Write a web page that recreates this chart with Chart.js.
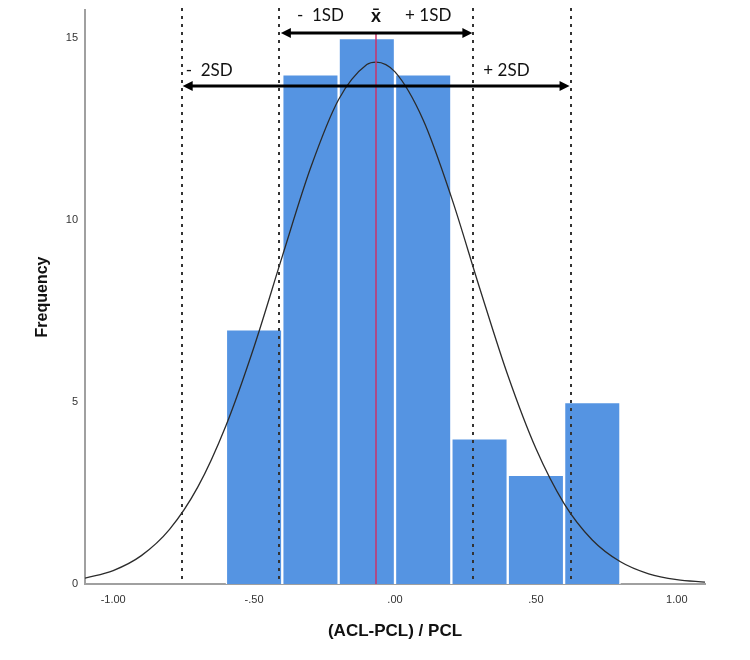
<!DOCTYPE html>
<html>
<head>
<meta charset="utf-8">
<title>Histogram (ACL-PCL) / PCL</title>
<script src="https://cdn.jsdelivr.net/npm/chart.js"></script>
<style>
  html, body { margin:0; padding:0; background:#fff; }
  #wrap { width:750px; height:660px; }
</style>
</head>
<body>
<div id="wrap"><canvas id="histChart" width="750" height="660"></canvas></div>
<script>
// ---------------- Data ----------------
const binCenters = [-0.5, -0.3, -0.1, 0.1, 0.3, 0.5, 0.7];
const frequencies = [7, 14, 15, 14, 4, 3, 5];

// normal curve
const curveX = [-1.1, -1.0, -0.9, -0.8, -0.7, -0.6, -0.5, -0.4, -0.3, -0.2, -0.1, -0.067,
                0.0, 0.1, 0.2, 0.3, 0.4, 0.5, 0.6, 0.7, 0.8, 0.9, 1.0, 1.1];
const curveY = [0.16, 0.37, 0.78, 1.50, 2.66, 4.35, 6.52, 9.00, 11.42, 13.31, 14.27, 14.34,
                14.07, 12.75, 10.63, 8.14, 5.74, 3.72, 2.21, 1.21, 0.61, 0.28, 0.12, 0.05];

const meanValue = -0.067;
const sdLines = [-0.757, -0.412, 0.278, 0.623];   // -2SD, -1SD, +1SD, +2SD
const xTickValues = [-1, -0.5, 0, 0.5, 1];
const yTickValues = [0, 5, 10, 15];

// ---------------- Helpers ----------------
function fmtTick(v) {
  const s = Math.abs(v).toFixed(2).replace(/^0/, "");
  return (v < 0 ? "-" : "") + s;
}

function drawArrow(ctx, x1, x2, y) {
  const head = 10, half = 5;
  ctx.beginPath();
  ctx.moveTo(x1 + head - 1, y);
  ctx.lineTo(x2 - head + 1, y);
  ctx.stroke();
  ctx.beginPath();
  ctx.moveTo(x1, y); ctx.lineTo(x1 + head, y - half); ctx.lineTo(x1 + head, y + half); ctx.closePath();
  ctx.fill();
  ctx.beginPath();
  ctx.moveTo(x2, y); ctx.lineTo(x2 - head, y - half); ctx.lineTo(x2 - head, y + half); ctx.closePath();
  ctx.fill();
}

// ---------------- SD markers ----------------
const sdPlugin = {
  id: "sdMarks",
  afterDatasetsDraw(chart) {
    const { ctx, chartArea, scales: { x, y } } = chart;
    ctx.save();

    // dotted SD lines
    ctx.strokeStyle = "#333";
    ctx.lineWidth = 2;
    ctx.setLineDash([3, 5]);
    sdLines.forEach(v => {
      const px = Math.round(x.getPixelForValue(v));
      ctx.beginPath();
      ctx.moveTo(px, chartArea.top - 2);
      ctx.lineTo(px, chartArea.bottom);
      ctx.stroke();
    });
    ctx.setLineDash([]);

    // mean line
    const mx = Math.round(x.getPixelForValue(meanValue));
    const topArrowY = y.getPixelForValue(15.14);
    const lowArrowY = y.getPixelForValue(13.68);
    ctx.strokeStyle = "#c8336a";
    ctx.lineWidth = 1.5;
    ctx.beginPath();
    ctx.moveTo(mx, topArrowY);
    ctx.lineTo(mx, chartArea.bottom);
    ctx.stroke();

    // arrows
    ctx.strokeStyle = "#000";
    ctx.fillStyle = "#000";
    ctx.lineWidth = 3;
    drawArrow(ctx, x.getPixelForValue(sdLines[1]) + 2, x.getPixelForValue(sdLines[2]) - 1, topArrowY);
    drawArrow(ctx, x.getPixelForValue(sdLines[0]) + 1, x.getPixelForValue(sdLines[3]) - 1, lowArrowY);

    // labels
    ctx.font = "17px Lato, 'Open Sans', sans-serif";
    ctx.textBaseline = "middle";
    ctx.fillStyle = "#111";
    ctx.textAlign = "left";
    ctx.fillText("-  1SD", x.getPixelForValue(sdLines[1]) + 18, topArrowY - 17);
    ctx.fillText("-  2SD", x.getPixelForValue(sdLines[0]) + 4, lowArrowY - 16);
    ctx.fillText("+ 2SD", x.getPixelForValue(sdLines[2]) + 10, lowArrowY - 16);
    ctx.textAlign = "right";
    ctx.fillText("+ 1SD", x.getPixelForValue(sdLines[2]) - 22, topArrowY - 17);
    ctx.textAlign = "center";
    ctx.font = "bold 19px Lato, 'DejaVu Sans', sans-serif";
    ctx.fillText("x\u0304", mx, topArrowY - 17);

    ctx.restore();
  }
};

// ---------------- Chart ----------------
const ctx = document.getElementById("histChart").getContext("2d");
new Chart(ctx, {
  type: "bar",
  data: {
    datasets: [
      {
        type: "line",
        label: "Normal",
        data: curveX.map((v, i) => ({ x: v, y: curveY[i] })),
        borderColor: "#2b2b2b",
        borderWidth: 1.3,
        pointRadius: 0,
        fill: false,
        cubicInterpolationMode: "monotone",
        order: 0
      },
      {
        label: "Frequency",
        data: binCenters.map((c, i) => ({ x: c, y: frequencies[i] })),
        backgroundColor: "#5594e2",
        borderColor: "#ffffff",
        borderWidth: 1.5,
        barPercentage: 1,
        categoryPercentage: 1,
        order: 1
      }
    ]
  },
  options: {
    responsive: false,
    animation: false,
    layout: { padding: { left: 0, right: 45, top: 10, bottom: 0 } },
    plugins: {
      legend: { display: false },
      tooltip: { enabled: false }
    },
    scales: {
      x: {
        type: "linear",
        min: -1.1,
        max: 1.1,
        offset: false,
        grid: { display: false, drawTicks: false },
        border: { display: true, color: "#a0a0a0", width: 2 },
        afterBuildTicks: s => { s.ticks = xTickValues.map(v => ({ value: v })); },
        afterFit: s => { s.height = 76; s.paddingLeft = 0; s.paddingRight = 0; },
        ticks: {
          callback: v => fmtTick(v),
          padding: 9,
          maxRotation: 0,
          color: "#333",
          font: { family: "'Liberation Sans', Arial, sans-serif", size: 11 }
        },
        title: {
          display: true,
          text: "(ACL-PCL) / PCL",
          color: "#111",
          padding: { top: 0, bottom: 18 },
          font: { family: "'Liberation Sans', Arial, sans-serif", size: 17, weight: "bold" }
        }
      },
      y: {
        min: 0,
        max: 15.77,
        grid: { display: false, drawTicks: false },
        border: { display: true, color: "#a0a0a0", width: 2 },
        afterBuildTicks: s => { s.ticks = yTickValues.map(v => ({ value: v })); },
        afterFit: s => { s.width = 85; s.paddingTop = 0; s.paddingBottom = 0; },
        ticks: {
          padding: 7,
          color: "#333",
          font: { family: "'Liberation Sans', Arial, sans-serif", size: 11 }
        },
        title: {
          display: true,
          text: "Frequency",
          color: "#111",
          padding: { top: 33, bottom: 0 },
          font: { family: "'Liberation Sans', Arial, sans-serif", size: 16, weight: "bold" }
        }
      }
    }
  },
  plugins: [sdPlugin]
});
</script>
</body>
</html>
